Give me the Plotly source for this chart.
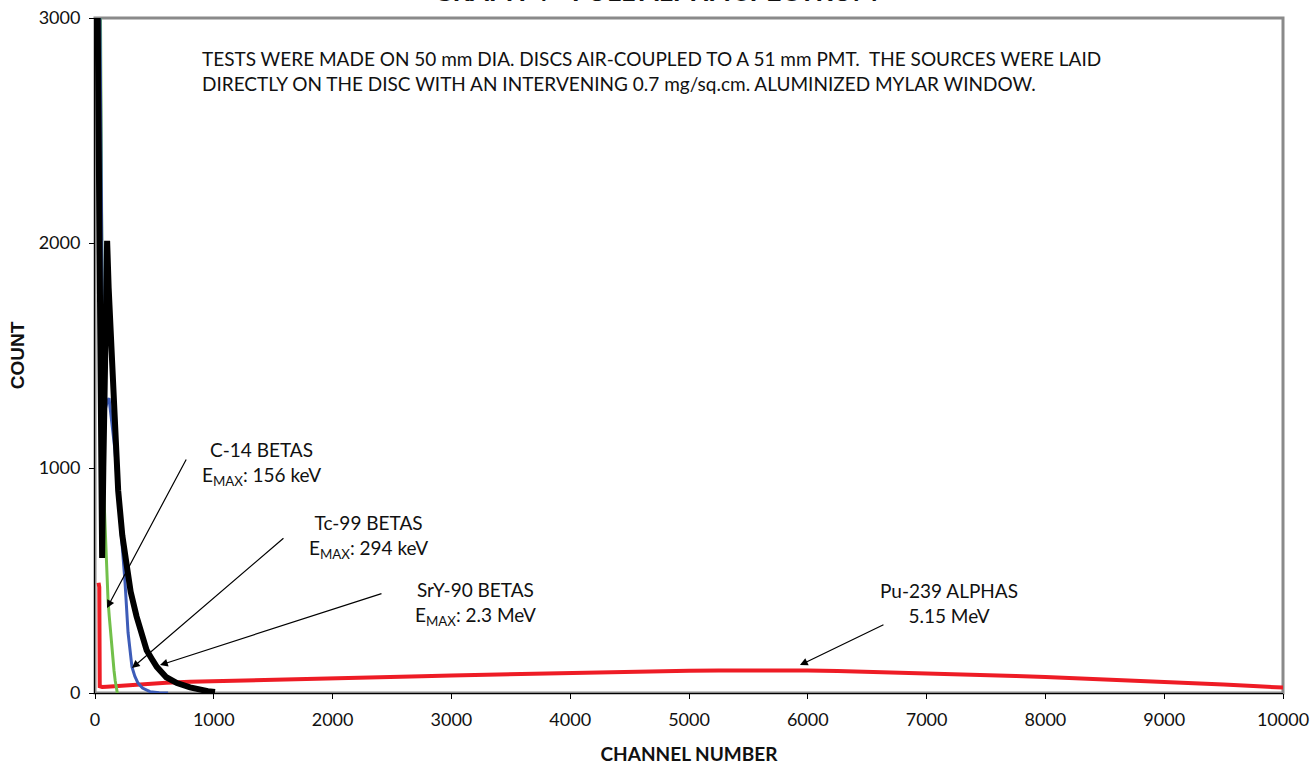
import plotly.graph_objects as go

# ---------------- data ----------------
red_ch = [30, 36, 40, 60, 100, 200, 300, 450, 600, 800, 1000, 1250, 1500, 1750, 2000,
          2250, 2500, 2750, 3000, 3250, 3500, 3750, 4000, 4250, 4500, 4750, 5000, 5250,
          5500, 5750, 6000, 6250, 6500, 6750, 7000, 7250, 7500, 7750, 8000, 8250, 8500,
          8750, 9000, 9250, 9500, 9750, 10000]
red_cnt = [490, 470, 30, 27, 28, 32, 36, 42, 46, 50, 53, 56, 60, 63, 66,
           69, 72, 75, 78, 81, 84, 87, 90, 92, 95, 97, 99, 100,
           101, 101, 100, 98, 95, 92, 88, 84, 80, 76, 71, 66, 61,
           56, 50, 44, 38, 31, 24]

green_ch = [45, 50, 55, 60, 67, 76, 85, 93, 101, 110, 120, 130, 140, 150, 160, 170, 180, 188]
green_cnt = [3100, 2600, 2100, 1600, 1100, 860, 730, 620, 480, 410, 340, 270, 205, 150, 100, 55, 18, 0]

blue_ch = [40, 48, 55, 62, 68, 80, 100, 118, 140, 168, 185, 200, 227, 253, 278, 300, 311,
           335, 362, 400, 463, 540, 615]
blue_cnt = [3100, 2500, 2050, 1600, 1290, 1250, 1290, 1310, 1200, 1080, 950, 850, 640, 490,
            270, 160, 116, 75, 44, 22, 6, 1, 0]

black_ch = [15, 30, 45, 60, 70, 82, 95, 102, 115, 130, 150, 170, 195, 230, 266, 300, 350,
            400, 435, 480, 520, 600, 690, 800, 884, 950, 1010]
black_cnt = [3500, 2500, 1300, 600, 1000, 1600, 1980, 2010, 1800, 1600, 1350, 1100, 900,
             700, 560, 450, 340, 250, 190, 150, 116, 70, 44, 25, 13, 8, 4]

x_ticks = [0, 1000, 2000, 3000, 4000, 5000, 6000, 7000, 8000, 9000, 10000]
x_tick_labels = ["0", "1000", "2000", "3000", "4000", "5000", "6000", "7000", "8000", "9000", "10000"]
y_ticks = [0, 1000, 2000, 3000]
y_tick_labels = ["0", "1000", "2000", "3000"]

title_text = "GRAPH 4 - FULL ALPHA SPECTRUM"
note_text = ("TESTS WERE MADE ON 50 mm DIA. DISCS AIR-COUPLED TO A 51 mm PMT.  THE SOURCES WERE LAID<br>"
             "DIRECTLY ON THE DISC WITH AN INTERVENING 0.7 mg/sq.cm. ALUMINIZED MYLAR WINDOW.")

# label text, label position (channel, count), arrow tip (channel, count), arrow tail offset px
labels = [
    ("C-14 BETAS<br>E<sub>MAX</sub>: 156 keV", 1400, 1020, 101, 378, 80, -150),
    ("Tc-99 BETAS<br>E<sub>MAX</sub>: 294 keV", 2300, 695, 311, 111, 153, -131),
    ("SrY-90 BETAS<br>E<sub>MAX</sub>: 2.3 MeV", 3200, 400, 547, 124, 223, -72),
    ("Pu-239 ALPHAS<br>5.15 MeV", 7190, 400, 5934, 124, 85, -41),
]

FONT = "Lato"

fig = go.Figure()
fig.add_trace(go.Scatter(x=red_ch, y=red_cnt, mode="lines", line=dict(color="#ee1c25", width=4),
                         name="Pu-239"))
fig.add_trace(go.Scatter(x=green_ch, y=green_cnt, mode="lines", line=dict(color="#72c04a", width=3),
                         name="C-14"))
fig.add_trace(go.Scatter(x=blue_ch, y=blue_cnt, mode="lines", line=dict(color="#3d5cb8", width=3),
                         name="Tc-99"))
fig.add_trace(go.Scatter(x=black_ch, y=black_cnt, mode="lines", line=dict(color="#000000", width=6),
                         name="SrY-90"))

annotations = []
for text, lx, ly, tx, ty, ax, ay in labels:
    annotations.append(dict(x=lx, y=ly, xref="x", yref="y", text=text, showarrow=False,
                            font=dict(family=FONT, size=19, color="#111"), align="center"))
    annotations.append(dict(x=tx, y=ty, xref="x", yref="y", text="", showarrow=True,
                            ax=ax, ay=ay, arrowhead=2, arrowsize=1.3, arrowwidth=1.2,
                            arrowcolor="#000", standoff=0))

annotations.append(dict(x=(200 - 95) / 1188, y=(693 - 45) / 675, xref="paper", yref="paper",
                        xanchor="left", yanchor="top",
                        text=note_text, showarrow=False, align="left",
                        font=dict(family=FONT, size=19, color="#111")))
annotations.append(dict(x=(655 - 95) / 1188, y=1, xref="paper", yref="paper", xanchor="center",
                        yanchor="bottom", yshift=9, text="<b>" + title_text + "</b>", showarrow=False,
                        font=dict(family=FONT, size=27, color="#111")))

fig.update_layout(
    width=1311, height=765,
    margin=dict(l=95, r=28, t=18, b=72),
    paper_bgcolor="white", plot_bgcolor="white",
    showlegend=False,
    annotations=annotations,
    shapes=[dict(type="rect", xref="paper", yref="paper", x0=0, y0=0, x1=1, y1=1,
                 line=dict(color="#8a8a8a", width=3), layer="below")],
    xaxis=dict(range=[0, 10000], tickvals=x_ticks, ticktext=x_tick_labels, ticks="outside",
               ticklen=5, tickcolor="#000", automargin=False, ticklabelstandoff=5,
               showline=True, linecolor="#000", linewidth=1, showgrid=False, zeroline=False,
               tickfont=dict(family=FONT, size=18, color="#111"),
               title=dict(text="<b>CHANNEL NUMBER</b>", font=dict(family=FONT, size=19, color="#111"),
                          standoff=26)),
    yaxis=dict(range=[0, 3000], tickvals=y_ticks, ticktext=y_tick_labels, ticks="outside",
               ticklen=5, tickcolor="#000", automargin=False, ticklabelstandoff=5,
               showline=True, linecolor="#000", linewidth=1, showgrid=False, zeroline=False,
               tickfont=dict(family=FONT, size=18, color="#111"),
               title=dict(text="<b>COUNT</b>", font=dict(family="Liberation Sans", size=19, color="#111"),
                          standoff=8)),
)

fig.write_html("out.html", config={"displayModeBar": False},
               post_script="document.body.style.margin='0';")
